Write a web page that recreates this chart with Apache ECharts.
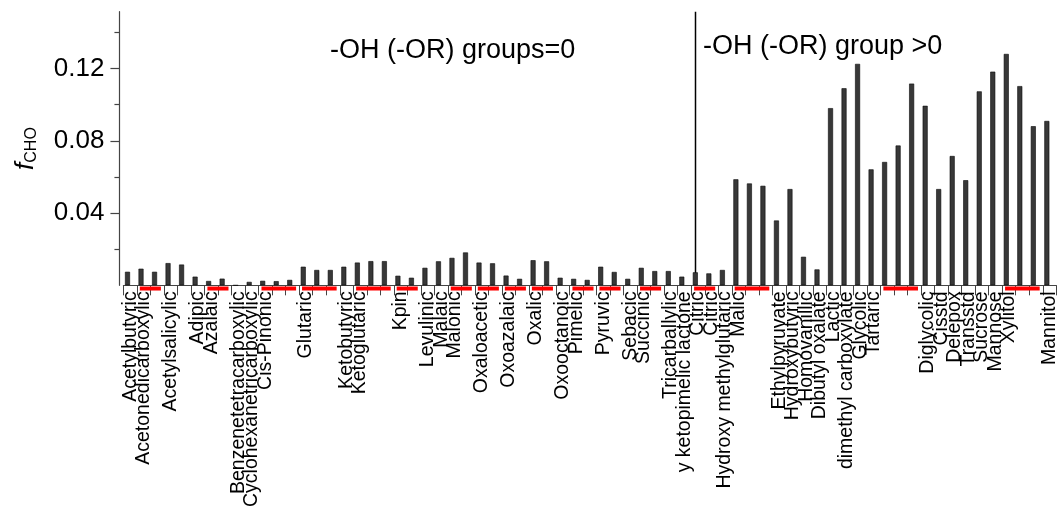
<!DOCTYPE html>
<html><head><meta charset="utf-8">
<script src="https://cdn.jsdelivr.net/npm/echarts@6/dist/echarts.min.js"></script>
<style>html,body{margin:0;padding:0;background:#fff}#c{width:1062px;height:510px}</style>
</head><body><div id="c"></div>
<script>
// ---------- data ----------
const categories = [
  'Acetylbutyric','Acetonedicarboxylic','','Acetylsalicylic','','Adipic','Azalaic','',
  'Benzenetetracarboxylic','Cyclohexanetricarboxylic','Cis-Pinonic','','',
  'Glutaric','','','Ketobutyric','Ketoglutaric','','','Kpin','',
  'Levulinic','Malaic','Malonic','','Oxaloacetic','','Oxoazalaic','','Oxalic','',
  'Oxooctanoic','Pimelic','','Pyruvic','','Sebacic','Succinic','',
  'Tricarballylic','y ketopimelic lactone','Citric','Citric','Hydroxy methylglutaric',
  'Malic','','','Ethylpyruvate','Hydroxybutyric','Homovanillic','Dibutyl oxalate',
  'Lactic','dimethyl carboxylate','Glycolic','Tartaric','','','',
  'Diglycolic','Cisstd','Delepox','Transstd','Sucrose','Mannose','Xylitol','','','Mannitol'
];
const fCHO = [
  0.0075,0.0092,0.0075,0.0123,0.0115,0.0048,0.0024,0.0037,
  0.0000,0.0019,0.0025,0.0023,0.0030,
  0.0103,0.0085,0.0085,0.0103,0.0126,0.0134,0.0134,0.0053,0.0042,
  0.0097,0.0133,0.0152,0.0182,0.0126,0.0122,0.0054,0.0036,0.0139,0.0133,
  0.0042,0.0036,0.0030,0.0103,0.0074,0.0036,0.0097,0.0079,
  0.0079,0.0048,0.0072,0.0066,0.0085,
  0.0587,0.0564,0.0551,0.0359,0.0533,0.0158,0.0088,
  0.0981,0.1091,0.1226,0.0642,0.0683,0.0774,0.1117,
  0.0994,0.0533,0.0716,0.0582,0.1074,0.1183,0.1281,0.1103,0.0881,0.0910
];
// replicate groups (red underline): [first category index, last category index]
const redGroups = [[1,2],[6,7],[10,12],[13,15],[17,19],[20,21],[24,25],[26,27],[28,29],
  [30,31],[33,34],[35,36],[38,39],[42,43],[45,47],[56,58],[65,67]];
const dividerCategory = 42;
const yMajorTicks = [0.04, 0.08, 0.12];
const yMinorTicks = [0.02, 0.06, 0.10, 0.14];
const yMax = 0.1515;
const groupTitles = ['-OH (-OR) groups=0', '-OH (-OR) group >0'];

// ---------- chart ----------
const FONT = '"Liberation Sans", Arial, sans-serif';
const BAR_W = 5, BAR_GAP = 0.08;
const BAR_SHIFT = BAR_W * (1 + BAR_GAP) / 2;
const AXIS_COLOR = '#444';

const chart = echarts.init(document.getElementById('c'), null, {renderer: 'canvas'});
chart.setOption({
  animation: false,
  backgroundColor: '#fff',
  grid: {left: 123.44, right: 5.7, top: 11.7, bottom: 222.5, containLabel: false},
  xAxis: {
    type: 'category', data: categories, boundaryGap: true,
    axisLine: {show: true, lineStyle: {color: AXIS_COLOR, width: 1.2}},
    axisTick: {show: true, interval: 0, length: 10, alignWithLabel: false, lineStyle: {color: AXIS_COLOR, width: 1}},
    axisLabel: {interval: 0, rotate: 90, margin: 6, fontSize: 19.5, fontFamily: FONT, color: '#000'},
    splitLine: {show: false}
  },
  yAxis: [{
    type: 'value', min: 0, max: yMax, offset: 4, position: 'left',
    axisLine: {show: true, lineStyle: {color: AXIS_COLOR, width: 1.2}},
    axisTick: {show: true, customValues: yMajorTicks, length: 9, lineStyle: {color: AXIS_COLOR, width: 1.2}},
    axisLabel: {show: true, customValues: yMajorTicks, margin: 15, fontSize: 26, fontFamily: FONT, color: '#000',
      formatter: v => v.toFixed(2)},
    splitLine: {show: false},
    name: '{f|f}{s|CHO}', nameLocation: 'middle', nameGap: 80, nameRotate: 90,
    nameTextStyle: {rich: {
      f: {fontSize: 26, fontStyle: 'italic', fontFamily: FONT, color: '#000', lineHeight: 28},
      s: {fontSize: 16, fontFamily: FONT, color: '#000', verticalAlign: 'bottom', lineHeight: 16}
    }}
  }, {
    type: 'value', min: 0, max: yMax, offset: 4, position: 'left',
    axisLine: {show: false},
    axisTick: {show: true, customValues: yMinorTicks, length: 5, lineStyle: {color: AXIS_COLOR, width: 1.2}},
    axisLabel: {show: false}, splitLine: {show: false}
  }],
  series: [
    {
      name: 'fCHO', type: 'bar', data: fCHO, barWidth: BAR_W, barGap: (BAR_GAP * 100) + '%', z: 3,
      itemStyle: {color: '#383838', borderColor: '#0a0a0a', borderWidth: 0.6}
    },
    {name: 'spacer', type: 'bar', data: [], barWidth: BAR_W},
    {
      name: 'groups', type: 'custom', data: redGroups, clip: false, z: 4,
      renderItem: (params, api) => {
        const bw = api.size([1, 0])[0];
        const p0 = api.coord([api.value(0), 0]);
        const p1 = api.coord([api.value(1), 0]);
        const x0 = p0[0] - 0.29 * bw, x1 = p1[0] + 0.27 * bw;
        return {type: 'rect', shape: {x: x0, y: p0[1] + 1.2, width: x1 - x0, height: 4}, style: {fill: '#ff0000'}};
      }
    },
    {
      name: 'divider', type: 'custom', data: [[dividerCategory, yMax]], clip: false, z: 1,
      renderItem: (params, api) => {
        const top = api.coord([api.value(0), api.value(1)]);
        const bot = api.coord([api.value(0), 0]);
        const x = Math.round(top[0] - BAR_SHIFT) + 0.5;
        return {type: 'line', shape: {x1: x, y1: top[1], x2: x, y2: bot[1]}, style: {stroke: '#000', lineWidth: 1.5}};
      }
    }
  ],
  graphic: [
    {type: 'text', left: 330, top: 37, style: {text: groupTitles[0], font: '27px ' + FONT, fill: '#000'}},
    {type: 'text', left: 703, top: 33, style: {text: groupTitles[1], font: '27px ' + FONT, fill: '#000'}}
  ]
});
</script>
</body></html>
